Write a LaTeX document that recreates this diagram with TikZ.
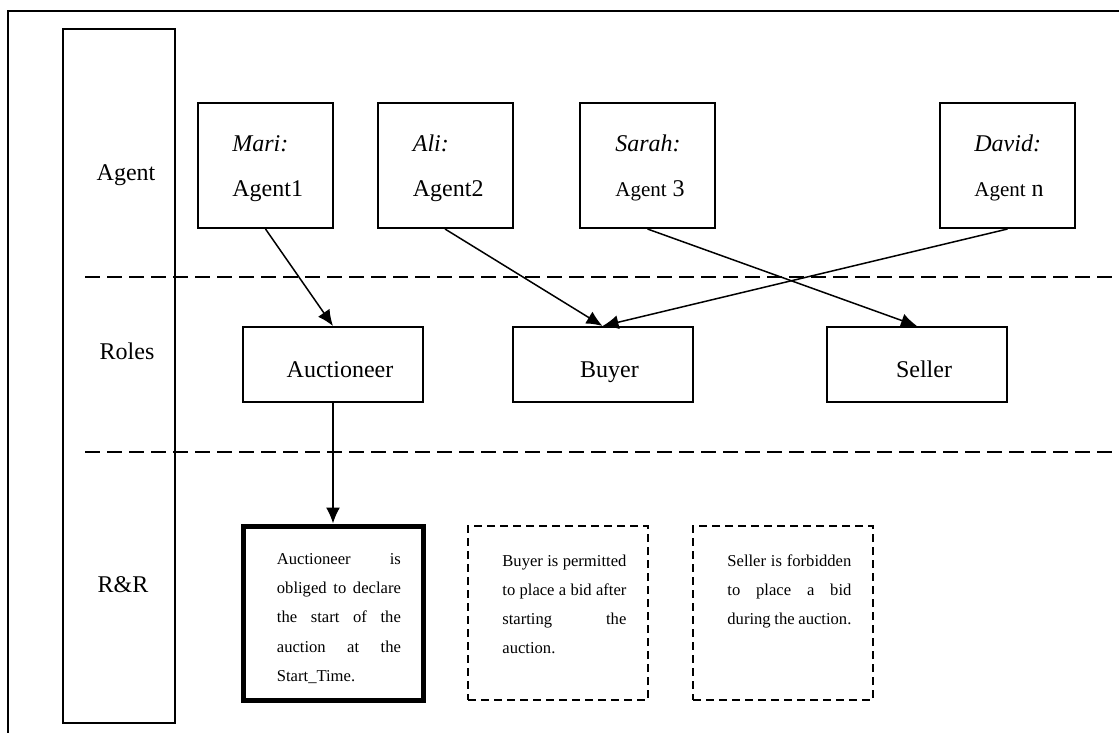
\documentclass[tikz,border=0pt]{standalone}
\usepackage{fontspec}
\setmainfont{Liberation Serif}
\usetikzlibrary{calc,arrows.meta}
\begin{document}
\begin{tikzpicture}[x=0.5pt,y=-0.5pt,
  frame/.style={line width=0.6pt},
  column/.style={draw,line width=0.75pt,inner sep=0pt,minimum width=56pt,minimum height=347pt},
  agentbox/.style={draw,line width=1pt,inner sep=0pt,minimum width=67.5pt,minimum height=62.5pt},
  rolebox/.style={draw,line width=1pt,inner sep=0pt,minimum width=90pt,minimum height=37.5pt,
    font=\fontsize{12}{14}\selectfont,text height=12.5pt,text depth=0pt,
    execute at begin node=\hspace*{7pt}},
  duty/.style={draw,inner sep=0pt,minimum width=90pt,minimum height=87pt},
  obliged/.style={duty,line width=2.5pt},
  optional/.style={duty,line width=1pt,dash pattern=on 4pt off 2.5pt},
  layerline/.style={line width=0.8pt,dash pattern=on 7.5pt off 3.5pt},
  link/.style={line width=0.75pt,-{Latex[length=8pt,width=7pt]}},
  txt/.style={inner sep=0pt,anchor=base west},
  layername/.style={inner sep=0pt,anchor=base,font=\fontsize{12}{14}\selectfont},
]
\useasboundingbox (0,0) rectangle (1119,733);

% outer frame (open to the right and at the bottom)
\coordinate (fb) at (8,733);
\coordinate (ft) at (8,11);
\coordinate (fr) at (1119,11);
\draw[frame] (fb) -- (ft) -- (fr);

% layer name column
\node[column] (col) at (119,376) {};
\node[layername] (lagent) at (126,180) {Agent};
\node[layername] (lroles) at (127,359) {Roles};
\node[layername] (lrr) at (123,592) {R\&R};

% layer separators
\coordinate (s1l) at (85,277);
\coordinate (s1r) at (1119,277);
\coordinate (s2l) at (85,452);
\coordinate (s2r) at (1119,452);
\draw[layerline] (s1l) -- (s1r);
\draw[layerline] (s2l) -- (s2r);

% agents
\newcommand{\agenttext}[2]{\parbox[t]{70pt}{\fontsize{12}{22.5}\selectfont\textit{#1}\\#2}}
\node[agentbox] (a1) at (265.5,165.5) {};
\node[agentbox] (a2) at (445,165.5) {};
\node[agentbox] (a3) at (647.5,165.5) {};
\node[agentbox] (an) at (1007.5,165.5) {};
\node[txt] (t1) at ($(a1.north west)+(35,50)$) {\agenttext{Mari:}{Agent1}};
\node[txt] (t2) at ($(a2.north west)+(36,50)$) {\agenttext{Ali:}{Agent2}};
\node[txt] (t3) at ($(a3.north west)+(36,50)$) {\agenttext{Sarah:}{{\fontsize{10.5}{12}\selectfont Agent} 3}};
\node[txt] (tn) at ($(an.north west)+(35,50)$) {\agenttext{David:}{{\fontsize{10.5}{12}\selectfont Agent} n}};

% roles
\node[rolebox] (au) at (333,364.5) {Auctioneer};
\node[rolebox] (bu) at (602.5,364.5) {Buyer};
\node[rolebox] (se) at (917,364.5) {Seller};

% rights and responsibilities
\node[obliged] (d1) at (333,613) {};
\node[optional] (d2) at (558,613) {};
\node[optional] (d3) at (783,613) {};

\newcommand{\dutytext}[1]{\parbox[t]{62pt}{\fontsize{8.3}{14.6}\selectfont #1}}
\newcommand{\jline}[1]{\makebox[62pt][s]{#1}}
\node[txt] (r1) at ($(d1.north west)+(36,41)$) {\dutytext{%
  \jline{Auctioneer is}\\\jline{obliged to declare}\\\jline{the start of the}\\%
  \jline{auction at the}\\Start\_Time.}};
\node[txt] (r2) at ($(d2.north west)+(35,41)$) {\dutytext{%
  \jline{Buyer is permitted}\\\jline{to place a bid after}\\\jline{starting the}\\auction.}};
\node[txt] (r3) at ($(d3.north west)+(35,41)$) {\dutytext{%
  \jline{Seller is forbidden}\\\jline{to place a bid}\\during the auction.}};

% assignments
\draw[link] (a1.south) -- (au.north);
\draw[link] (a2.south) -- (bu.north);
\draw[link] (an.south) -- (bu.north);
\draw[link] (a3.south) -- (se.north);
\draw[link] (au.south) -- (d1.north);
\end{tikzpicture}
\end{document}
